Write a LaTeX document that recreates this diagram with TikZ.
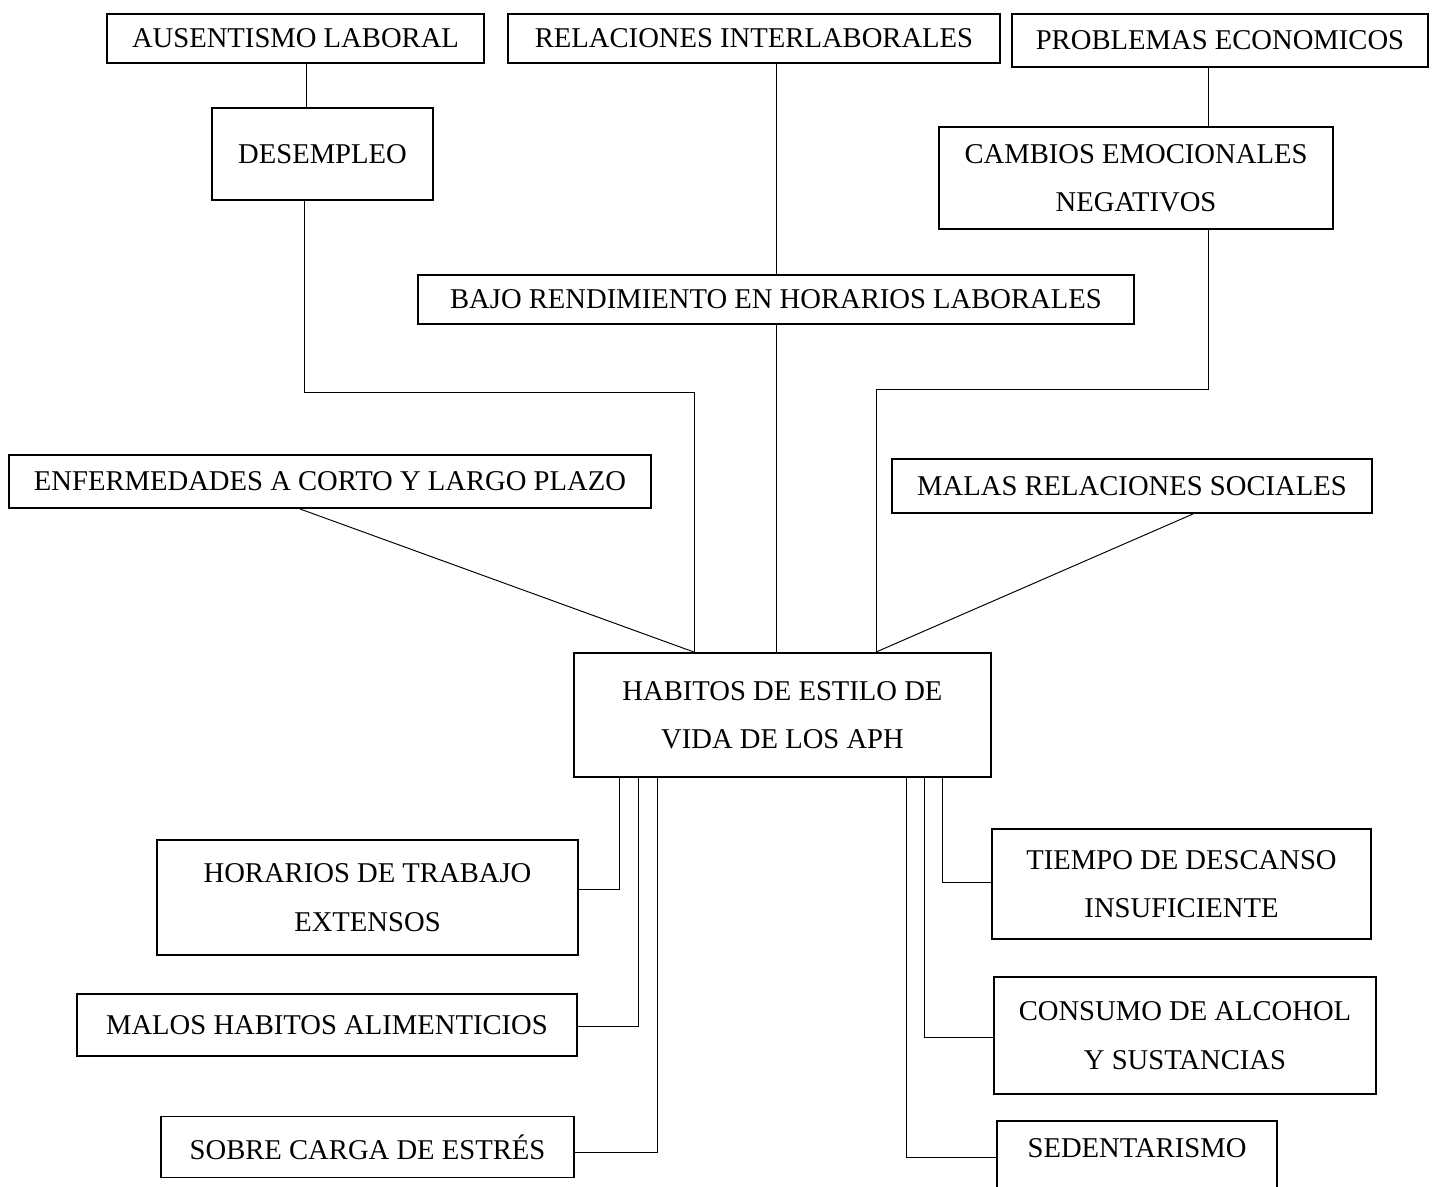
\documentclass[tikz,border=0pt]{standalone}
\usepackage{fontspec}
\setmainfont{Liberation Serif}
\begin{document}
\begin{tikzpicture}[x = 0.02cm, y = -0.02cm,
		caja/.style = {draw, line width = 1.1pt, inner sep = 0pt, align = center,
			font = \fontsize{16.3}{27.5}\selectfont},
		linea/.style = {line width = 0.55pt}]
				\clip (0,0) rectangle (1439,1186);
				
				\node[caja, minimum width = 7.54cm, minimum height = 0.98cm] (ausentismo) at (295.5,38.5) {AUSENTISMO LABORAL};
				\node[caja, minimum width = 9.84cm, minimum height = 0.98cm] (relaciones) at (754,38.5) {RELACIONES INTERLABORALES};
				\node[caja, minimum width = 8.32cm, minimum height = 1.06cm] (problemas) at (1220,40.5) {PROBLEMAS ECONOMICOS};
				\node[caja, minimum width = 4.42cm, minimum height = 1.84cm] (desempleo) at (322.5,154) {DESEMPLEO};
				\node[caja, minimum width = 7.88cm, minimum height = 2.04cm] (cambios) at (1136,178) {CAMBIOS EMOCIONALES\\NEGATIVOS};
				\node[caja, minimum width = 14.32cm, minimum height = 0.98cm] (bajo) at (776,299.5) {BAJO RENDIMIENTO EN HORARIOS LABORALES};
				\node[caja, minimum width = 12.84cm, minimum height = 1.06cm] (enfermedades) at (330,481.5) {ENFERMEDADES A CORTO Y LARGO PLAZO};
				\node[caja, minimum width = 9.6cm, minimum height = 1.08cm] (malas) at (1132,486) {MALAS RELACIONES SOCIALES};
				\node[caja, minimum width = 8.34cm, minimum height = 2.48cm] (habitos) at (782.5,715) {HABITOS DE ESTILO DE\\VIDA DE LOS APH};
				\node[caja, minimum width = 8.42cm, minimum height = 2.30cm] (horarios) at (367.5,897.5) {HORARIOS DE TRABAJO\\EXTENSOS};
				\node[caja, minimum width = 10cm, minimum height = 1.24cm] (malos) at (327,1025) {MALOS HABITOS ALIMENTICIOS};
				\node[caja, minimum width = 8.26cm, minimum height = 1.22cm] (sobre) at (367.5,1147) {SOBRE CARGA DE ESTRÉS};
				\node[caja, minimum width = 7.58cm, minimum height = 2.20cm] (tiempo) at (1181.5,884) {TIEMPO DE DESCANSO\\INSUFICIENTE};
				\node[caja, minimum width = 7.64cm, minimum height = 2.34cm] (consumo) at (1185,1035.5) {CONSUMO DE ALCOHOL\\Y SUSTANCIAS};
				\node[caja, minimum width = 5.6cm, minimum height = 1.88cm, text height = 11pt, text depth = 22.6pt] (sedentarismo) at (1137,1168) {SEDENTARISMO};
				
				\coordinate (vA) at (306,0);
				\coordinate (vD) at (304,0);
				\coordinate (vR) at (776,0);
				\coordinate (vP) at (1208,0);
				\coordinate (vE) at (300,0);
				\coordinate (vM) at (1193,0);
				\coordinate (codoD) at (694,392);
				\coordinate (codoC) at (876,389);
				\coordinate (codoH) at (619,889);
				\coordinate (codoA) at (638,1026);
				\coordinate (codoS) at (657,1152);
				\coordinate (codoT) at (942,882);
				\coordinate (codoU) at (924,1037);
				\coordinate (codoE) at (906,1157);
				
				\draw[linea] (ausentismo.south -| vA) -- (desempleo.north -| vA);
				\draw[linea] (problemas.south -| vP) -- (cambios.north -| vP);
				\draw[linea] (relaciones.south -| vR) -- (bajo.north -| vR);
				\draw[linea] (bajo.south -| vR) -- (habitos.north -| vR);
				\draw[linea] (desempleo.south -| vD) |- (codoD) -- (habitos.north -| codoD);
				\draw[linea] (cambios.south -| vP) |- (codoC) -- (habitos.north -| codoC);
				\draw[linea] (enfermedades.south -| vE) -- (habitos.north -| codoD);
				\draw[linea] (malas.south -| vM) -- (habitos.north -| codoC);
				
				\draw[linea] (habitos.south -| codoH) -- (codoH) -- (horarios.east |- codoH);
				\draw[linea] (habitos.south -| codoA) -- (codoA) -- (malos.east |- codoA);
				\draw[linea] (habitos.south -| codoS) -- (codoS) -- (sobre.east |- codoS);
				\draw[linea] (habitos.south -| codoT) -- (codoT) -- (tiempo.west |- codoT);
				\draw[linea] (habitos.south -| codoU) -- (codoU) -- (consumo.west |- codoU);
				\draw[linea] (habitos.south -| codoE) -- (codoE) -- (sedentarismo.west |- codoE);
			\end{tikzpicture}
\end{document}
